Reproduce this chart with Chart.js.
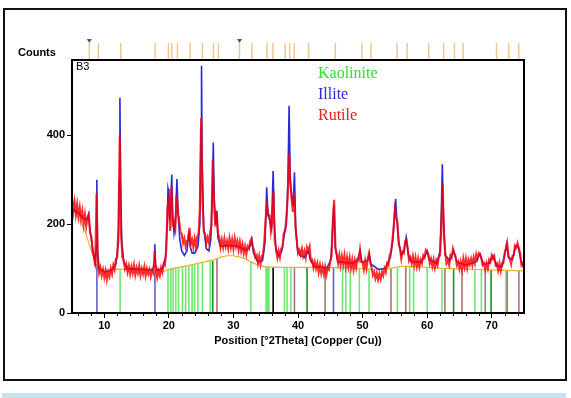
<!DOCTYPE html>
<html>
<head>
<meta charset="utf-8">
<script src="https://cdn.jsdelivr.net/npm/chart.js@4.4.1/dist/chart.umd.min.js"></script>
<style>
html,body{margin:0;padding:0;background:#fff;width:571px;height:398px;overflow:hidden;}
#wrap{position:relative;width:571px;height:398px;}
#frame{position:absolute;left:3px;top:8px;width:560px;height:369px;border:2px solid #111;}
#bar{position:absolute;left:2px;top:393px;width:564px;height:5px;background:#c3e3ef;}
#c{position:absolute;left:0;top:0;}
.t{position:absolute;white-space:nowrap;}
.sans{font-family:'Liberation Sans',Arial,sans-serif;font-size:11px;line-height:11px;color:#000;}
.serif{font-family:'Liberation Serif','Times New Roman',serif;font-size:16px;line-height:16px;}
</style>
</head>
<body>
<div id="wrap">
  <div id="frame"></div>
  <div id="bar"></div>
  <canvas id="c" width="571" height="398"></canvas>
  <div class="t sans" style="left:18px;top:47px;font-weight:bold;">Counts</div>
  <div class="t sans" style="left:76px;top:61px;">B3</div>
  <div class="t serif" style="left:318px;top:65px;color:#30e030;">Kaolinite</div>
  <div class="t serif" style="left:318px;top:86px;color:#2a2ae0;">Illite</div>
  <div class="t serif" style="left:318px;top:107px;color:#e82020;">Rutile</div>
</div>
<script>
// ---- observed pattern: start angle, step, counts (rows of 2 deg) ----
const twoThetaStart = 5.0;
const twoThetaStep = 0.2;
const observedCounts = [
  262,228,250,222,245,218,238,212,230,200,  // 5.0
  222,195,215,222,180,172,140,128,105,270,  // 7.0
  112,90,102,85,98,80,95,75,92,82,          // 9.0
  100,88,108,98,122,125,200,400,180,125,    // 11.0
  120,100,110,92,106,88,104,90,108,86,      // 13.0
  102,90,106,85,100,88,104,84,100,88,       // 15.0
  98,82,96,90,140,96,80,95,84,102,          // 17.0
  92,112,108,145,240,255,185,285,200,205,   // 19.0
  190,265,228,208,182,178,158,168,150,162,  // 21.0
  165,192,155,165,148,168,150,172,178,235,  // 23.0
  440,255,185,178,158,170,158,182,198,345,  // 25.0
  245,195,230,180,170,148,165,148,168,150,  // 27.0
  162,145,168,148,165,145,168,150,162,142,  // 29.0
  160,140,155,135,150,132,150,145,162,168,  // 31.0
  148,142,125,130,112,128,110,128,132,165,  // 33.0
  215,242,222,220,185,205,275,162,145,125,  // 35.0
  140,125,145,148,180,185,215,258,360,295,  // 37.0
  258,228,270,195,165,135,142,132,145,128,  // 39.0
  140,125,148,140,150,118,120,102,115,100,  // 41.0
  112,92,108,90,105,88,104,86,102,98,       // 43.0
  118,128,205,255,148,130,112,130,108,128,  // 45.0
  110,130,105,125,104,124,102,120,98,118,   // 47.0
  102,122,118,142,115,115,98,118,100,122,   // 49.0
  135,112,102,85,92,78,90,75,88,76,         // 51.0
  92,84,100,92,112,108,130,138,162,192,     // 53.0
  232,215,205,155,145,122,138,135,162,165,  // 55.0
  145,118,125,112,128,108,125,105,122,104,  // 57.0
  120,112,130,125,142,138,132,112,122,105,  // 59.0
  120,102,118,108,125,130,195,290,175,135,  // 61.0
  112,118,108,130,125,145,135,128,108,115,  // 63.0
  100,115,98,122,104,122,102,120,110,122,   // 65.0
  108,125,112,132,122,135,132,122,108,112,  // 67.0
  98,112,100,120,115,130,122,128,108,112,   // 69.0
  96,112,95,112,112,135,145,158,128,122,    // 71.0
  110,128,130,152,148,158,145,135,108,112,  // 73.0
  100                                        // 75.0
];

// ---- calculated profile [2theta, counts] ----
const calculatedProfile = [
  [5.0,235],[6.0,225],[7.0,210],[7.35,212],[7.55,222],[7.75,192],[8.2,145],[8.6,112],[8.75,150],[8.85,300],[8.95,140],[9.2,100],
  [10.0,92],[11.0,95],[11.8,110],[12.2,160],[12.32,300],[12.42,485],[12.52,300],[12.7,165],[13.0,115],[13.6,100],
  [17.5,97],[17.72,110],[17.82,155],[17.92,110],[18.2,96],[19.0,100],[19.5,125],[19.75,200],[19.87,280],[20.0,270],
  [20.15,210],[20.3,240],[20.45,312],[20.6,220],[20.8,180],[21.0,200],[21.25,302],[21.45,220],[21.7,165],[22.0,140],
  [22.4,130],[22.8,140],[23.1,185],[23.3,150],[23.6,135],[24.0,135],[24.5,150],[24.8,200],[24.98,420],[25.06,557],
  [25.15,350],[25.4,190],[25.8,145],[26.2,140],[26.5,165],[26.75,280],[26.88,384],[27.02,260],[27.25,200],[27.42,230],
  [27.6,170],[28.0,150],[29.0,152],[30.0,152],[31.0,148],[32.0,142],[32.6,150],[32.85,165],[33.1,135],[33.8,115],
  [34.5,118],[34.9,160],[35.15,283],[35.35,220],[35.6,210],[35.9,190],[36.15,320],[36.35,200],[36.6,140],[37.0,128],
  [37.5,140],[37.9,180],[38.2,200],[38.45,300],[38.62,467],[38.8,300],[39.05,260],[39.25,240],[39.45,317],[39.65,190],
  [39.9,145],[40.3,130],[41.0,125],[41.4,135],[41.6,140],[41.9,120],[42.5,105],[44.5,102],[45.1,120],[45.35,190],
  [45.55,245],[45.75,150],[46.2,115],[48.5,112],[49.3,120],[49.6,140],[49.9,115],[50.8,118],[51.05,133],[51.3,110],
  [52.5,98],[53.5,100],[54.3,125],[54.7,165],[55.0,235],[55.12,257],[55.3,210],[55.6,160],[56.0,130],[56.4,140],
  [56.75,170],[57.1,130],[57.6,115],[59.0,115],[59.7,130],[60.0,140],[60.3,120],[61.5,112],[62.0,140],[62.2,230],
  [62.35,335],[62.5,230],[62.8,130],[63.5,118],[64.1,140],[64.6,115],[66.0,108],[67.5,115],[68.2,133],[68.7,110],
  [69.6,112],[70.2,129],[70.8,105],[71.6,105],[72.0,130],[72.3,155],[72.6,125],[73.2,120],[73.7,150],[74.1,150],
  [74.5,120],[75.0,100]
];

// ---- background [2theta, counts] ----
const backgroundProfile = [
  [5,238],[6,215],[7,185],[8,140],[8.6,110],[9.2,99],[10,97],[12,99],[14,98],[16,97],[18,95],[19.2,94],[20,98],
  [22,104],[24,110],[26,117],[27,120],[28,126],[29,129],[30,129],[31,126],[32,121],[33,113],[34,107],[35,104],
  [37,103],[40,103],[42,103],[44,102],[46,103],[48,102],[50,100],[52,98],[54,100],[56,105],[58,105],[60,103],
  [62,101],[64,100],[66,99],[68,98],[70,97],[72,96],[75,95]
];

// ---- reference sticks ----
const kaolinitePos    = [12.45,19.87,20.3,20.65,21.07,21.5,22.1,22.6,23.1,23.6,24.0,24.5,25.2,26.4,32.7,35.05,35.3,35.5,37.9,38.3,38.9,46.9,47.4,48.1,49.5,51.0,55.4,57.3,57.9,60.0,62.3,67.4,68.4,72.2];
const kaoliniteHeight = [99,100,101,102,103,104,105,107,108,109,110,112,114,117,115,105,105,105,103,103,103,103,103,102,101,99,102,105,105,103,101,99,98,96];
const kaoliniteStrongPos    = [26.8,41.4,64.1,69.9];
const kaoliniteStrongHeight = [118,103,100,97];
const illitePos    = [8.86,17.85,45.5];
const illiteHeight = [110,96,102];
const rutilePos    = [27.45,39.45,44.2,54.4,56.7,62.75,65.4,69.0,72.4,74.2];
const rutileHeight = [122,103,102,100,105,101,100,98,96,95];
const otherPos     = [36.15];
const otherHeight  = [103];

// ---- reference markers above the plot ----
const refMarkerPos   = [7.68,9.08,12.55,17.87,19.93,20.46,21.33,23.29,25.2,26.9,27.68,30.94,32.86,35.19,36.12,38.02,38.7,39.4,41.64,45.78,49.9,51.3,55.34,56.9,60.24,62.57,64.22,65.57,70.74,72.64,74.19];
const refTrianglePos = [7.68,30.94];

// ---- axes ----
const xMin = 5, xMax = 75, xMinorStep = 2;
const xTickValues = [10,20,30,40,50,60,70];
const yMin = 0, yMax = 570;
const yTickValues = [0,200,400];

const observedData = observedCounts.map((c,i)=>({x: +(twoThetaStart + i*twoThetaStep).toFixed(2), y: c}));
const pairData = arr => arr.map(p=>({x:p[0], y:p[1]}));
function stickData(pos, h){
  const d=[];
  pos.forEach((p,i)=>{ d.push({x:p,y:0},{x:p,y:h[i]},{x:p,y:null}); });
  return d;
}
function stickSet(pos,h,color,order){
  return {data:stickData(pos,h), borderColor:color, borderWidth:1.6, pointRadius:0, spanGaps:false, tension:0, order:order};
}

const decor = {
  id:'decor',
  afterDraw(chart){
    const ctx = chart.ctx, a = chart.chartArea, xs = chart.scales.x;
    ctx.save();
    // minor ticks
    ctx.strokeStyle='#000'; ctx.lineWidth=1;
    for(let v = Math.ceil(xMin/xMinorStep)*xMinorStep; v<=xMax; v+=xMinorStep){
      if (xTickValues.includes(v)) continue;
      const px = Math.round(xs.getPixelForValue(v))+0.5;
      ctx.beginPath(); ctx.moveTo(px,a.bottom); ctx.lineTo(px,a.bottom+3); ctx.stroke();
    }
    // reference markers
    ctx.strokeStyle='#f2c690'; ctx.lineWidth=1.5;
    refMarkerPos.forEach(v=>{
      const px = xs.getPixelForValue(v);
      ctx.beginPath(); ctx.moveTo(px,a.top-17); ctx.lineTo(px,a.top-1); ctx.stroke();
    });
    ctx.fillStyle='#555';
    refTrianglePos.forEach(v=>{
      const px = xs.getPixelForValue(v);
      ctx.beginPath(); ctx.moveTo(px-2.5,a.top-21); ctx.lineTo(px+2.5,a.top-21); ctx.lineTo(px,a.top-17); ctx.closePath(); ctx.fill();
    });
    // plot frame
    ctx.strokeStyle='#000'; ctx.lineWidth=2;
    ctx.strokeRect(a.left, a.top, a.right-a.left, a.bottom-a.top);
    ctx.restore();
  }
};

const tickFont = {family:"'Liberation Sans', Arial, sans-serif", size:11, weight:'bold'};

new Chart(document.getElementById('c'), {
  type:'line',
  data:{datasets:[
    {data:pairData(calculatedProfile), borderColor:'#2b2bd6', borderWidth:1.6, pointRadius:0, tension:0, order:2},
    {data:observedData, borderColor:'rgba(255,0,0,0.82)', borderWidth:2.1, pointRadius:0, tension:0, order:1},
    {data:pairData(backgroundProfile), borderColor:'#e8b32a', borderWidth:1.2, pointRadius:0, tension:0, order:3},
    stickSet(kaolinitePos,kaoliniteHeight,'#6fe86f',6),
    stickSet(kaoliniteStrongPos,kaoliniteStrongHeight,'#1f8f1f',5),
    stickSet(illitePos,illiteHeight,'#6262c8',4),
    stickSet(rutilePos,rutileHeight,'#a87474',5),
    stickSet(otherPos,otherHeight,'#000000',5)
  ]},
  options:{
    responsive:false, animation:false, devicePixelRatio:1,
    layout:{padding:{top:60,left:0,right:47,bottom:0}},
    plugins:{legend:{display:false}, tooltip:{enabled:false}},
    scales:{
      x:{type:'linear', min:xMin, max:xMax,
         afterFit:s=>{s.height=85;},
         afterBuildTicks:s=>{s.ticks = xTickValues.map(v=>({value:v}));},
         ticks:{font:tickFont, color:'#000', padding:1, maxRotation:0, autoSkip:false},
         grid:{drawOnChartArea:false, drawTicks:true, tickLength:5, color:'#000', lineWidth:1},
         border:{display:false},
         title:{display:true, text:'Position [°2Theta] (Copper (Cu))', font:tickFont, color:'#000', padding:{top:0,bottom:50}}
      },
      y:{type:'linear', min:yMin, max:yMax,
         afterFit:s=>{s.width=72;},
         afterBuildTicks:s=>{s.ticks = yTickValues.map(v=>({value:v}));},
         ticks:{font:tickFont, color:'#000', padding:2, autoSkip:false},
         grid:{drawOnChartArea:false, drawTicks:true, tickLength:5, color:'#000', lineWidth:1},
         border:{display:false}
      }
    }
  },
  plugins:[decor]
});
</script>
</body>
</html>
